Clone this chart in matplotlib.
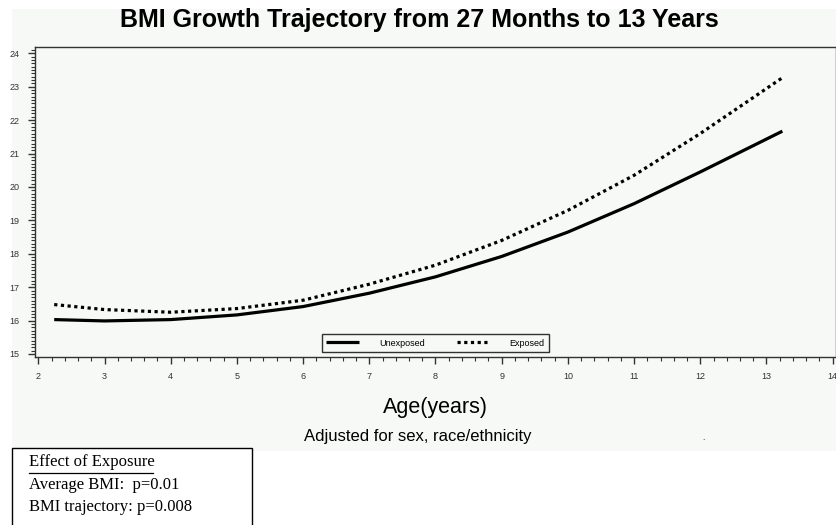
import numpy as np
import matplotlib
matplotlib.use('Agg')
import matplotlib.pyplot as plt
from matplotlib.patches import Rectangle
from matplotlib.lines import Line2D
from matplotlib.ticker import MultipleLocator

# values
age = [2.24, 3, 4, 5, 6, 7, 8, 9, 10, 11, 12, 13.24]
unexposed = [16.03, 15.99, 16.03, 16.17, 16.42, 16.82, 17.31, 17.92, 18.65, 19.5, 20.45, 21.67]
exposed = [16.48, 16.33, 16.25, 16.36, 16.61, 17.09, 17.66, 18.4, 19.3, 20.35, 21.6, 23.27]
xticks = list(range(2, 15))
yticks = list(range(15, 25))

W, H = 837, 525
bg = '#f6f9f6'

def fx(px):
    return px / W

def fy(py):
    return 1 - py / H

plt.rcParams['font.family'] = ['Liberation Sans', 'DejaVu Sans']

fig = plt.figure(figsize=(W / 100, H / 100), dpi=100)
fig.patch.set_facecolor('white')
fig.add_artist(Rectangle((fx(12), fy(451)), fx(837) - fx(12), fy(9) - fy(451),
                         transform=fig.transFigure, facecolor=bg, edgecolor='none', zorder=-10))

ax = fig.add_axes([fx(35), fy(357), fx(836) - fx(35), fy(47) - fy(357)])
ax.set_facecolor(bg)

ax.plot(age, unexposed, color='black', lw=2.3, solid_capstyle='butt', label='Unexposed')
ax.plot(age, exposed, color='black', lw=2.3, linestyle=(0, (1, 1.1)), dash_capstyle='butt', label='Exposed')

ax.set_xlim(1.95, 14.05)
ax.set_ylim(14.91, 24.19)
ax.set_xticks(xticks)
ax.set_yticks(yticks)
ax.xaxis.set_minor_locator(MultipleLocator(0.2))
ax.yaxis.set_minor_locator(MultipleLocator(0.1))
ax.tick_params(which='major', direction='out', length=5, width=1, labelsize=6.5, colors='#333333', pad=6)
ax.tick_params(which='minor', direction='out', length=3, width=0.8, colors='#333333')
for s in ax.spines.values():
    s.set_color('#333333')
    s.set_linewidth(1)

leg = ax.legend(loc='center', bbox_to_anchor=(0.5, 0.045), ncol=2, fontsize=6.5,
                handlelength=3.6, handletextpad=2.2, columnspacing=3.6, frameon=True,
                fancybox=False, borderpad=0.5, borderaxespad=0)
leg.get_frame().set_edgecolor('black')
leg.get_frame().set_linewidth(1)
leg.get_frame().set_facecolor(bg)

fig.text(fx(419), fy(20), 'BMI Growth Trajectory from 27 Months to 13 Years',
         ha='center', va='center', fontsize=18, fontweight='bold')
fig.text(fx(435), fy(407), 'Age(years)', ha='center', va='center', fontsize=15.5)
fig.text(fx(418), fy(437), 'Adjusted for sex, race/ethnicity', ha='center', va='center', fontsize=12)
fig.text(fx(703), fy(438), '.', ha='center', va='center', fontsize=6)

# note box bottom left
fig.add_artist(Rectangle((fx(12), fy(530)), fx(252) - fx(12), fy(448) - fy(530),
                         transform=fig.transFigure, facecolor='white', edgecolor='black', lw=1))
serif = ['Liberation Serif', 'DejaVu Serif']
fig.text(fx(29), fy(462), 'Effect of Exposure', family=serif, fontsize=12, va='center')
fig.add_artist(Line2D([fx(29), fx(153)], [fy(472.5), fy(472.5)], transform=fig.transFigure, color='black', lw=0.9))
fig.text(fx(29), fy(485), 'Average BMI:  p=0.01', family=serif, fontsize=12, va='center')
fig.text(fx(29), fy(507), 'BMI trajectory: p=0.008', family=serif, fontsize=12, va='center')

fig.savefig('out.png', dpi=100)
